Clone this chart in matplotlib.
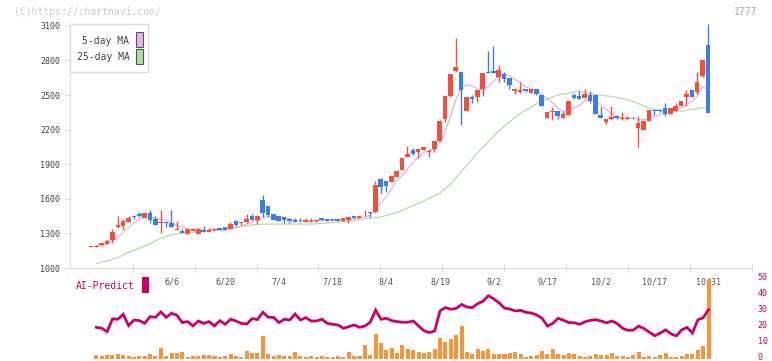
import matplotlib.pyplot as plt
from matplotlib.patches import Rectangle
from matplotlib.transforms import blended_transform_factory, ScaledTranslation
import numpy as np
import pandas as pd

plt.rcParams['font.family'] = ['DejaVu Sans Mono', 'DejaVu Sans']

# 日足 OHLC (6/6 が index 15、10/31 が最後)
opens = [1186, 1185, 1200, 1212, 1245, 1357, 1368, 1402, 1448, 1470,
         1437, 1477, 1425, 1394, 1397, 1390, 1333, 1323, 1298, 1325,
         1298, 1328, 1313, 1327, 1347, 1352, 1336, 1406, 1394, 1399,
         1448, 1416, 1590, 1538, 1468, 1450, 1442, 1425, 1416, 1408,
         1400, 1401, 1410, 1431, 1422, 1425, 1425, 1408, 1420, 1451,
         1437, 1456, 1485, 1485, 1770, 1754, 1748, 1792, 1850, 1965,
         2022, 2008, 2023, 2005, 2030, 2101, 2290, 2491, 2708, 2699,
         2364, 2485, 2486, 2552, 2702, 2708, 2659, 2680, 2644, 2538,
         2525, 2552, 2520, 2552, 2500, 2303, 2350, 2361, 2303, 2327,
         2500, 2494, 2477, 2500, 2500, 2327, 2263, 2292, 2321, 2296,
         2296, 2300, 2214, 2196, 2275, 2370, 2373, 2387, 2338, 2361,
         2407, 2485, 2543, 2529, 2667, 2933]
highs = [1192, 1200, 1218, 1250, 1340, 1450, 1425, 1450, 1450, 1485,
         1478, 1503, 1453, 1503, 1398, 1503, 1405, 1338, 1340, 1345,
         1349, 1364, 1345, 1350, 1348, 1353, 1396, 1416, 1398, 1468,
         1468, 1450, 1633, 1540, 1470, 1452, 1443, 1436, 1430, 1430,
         1430, 1430, 1422, 1432, 1423, 1426, 1427, 1432, 1444, 1453,
         1452, 1503, 1487, 1754, 1778, 1756, 1805, 1842, 1958, 2058,
         2040, 2035, 2052, 2029, 2103, 2282, 2495, 2685, 2997, 2700,
         2482, 2500, 2546, 2690, 2881, 2925, 2760, 2702, 2646, 2555,
         2612, 2555, 2555, 2555, 2502, 2355, 2396, 2363, 2364, 2450,
         2520, 2535, 2552, 2535, 2502, 2396, 2295, 2405, 2323, 2350,
         2315, 2312, 2318, 2278, 2373, 2372, 2382, 2431, 2387, 2433,
         2450, 2540, 2545, 2699, 2805, 3115]
lows = [1184, 1182, 1195, 1210, 1220, 1350, 1330, 1400, 1425, 1440,
        1435, 1393, 1375, 1306, 1358, 1358, 1333, 1300, 1297, 1318,
        1295, 1310, 1310, 1320, 1328, 1328, 1335, 1364, 1372, 1387,
        1418, 1381, 1445, 1442, 1414, 1408, 1387, 1390, 1395, 1398,
        1398, 1399, 1402, 1415, 1409, 1410, 1409, 1405, 1393, 1432,
        1435, 1453, 1445, 1480, 1648, 1662, 1745, 1790, 1848, 1962,
        1980, 1951, 2020, 1960, 2008, 2098, 2268, 2485, 2700, 2240,
        2360, 2428, 2442, 2491, 2688, 2692, 2615, 2615, 2552, 2509,
        2518, 2530, 2518, 2503, 2403, 2300, 2286, 2292, 2300, 2325,
        2465, 2463, 2475, 2430, 2336, 2300, 2248, 2280, 2296, 2280,
        2285, 2294, 2049, 2194, 2272, 2329, 2355, 2318, 2335, 2358,
        2405, 2407, 2483, 2509, 2653, 2346]
closes = [1190, 1195, 1215, 1235, 1310, 1370, 1405, 1435, 1444, 1447,
          1477, 1420, 1375, 1397, 1394, 1358, 1336, 1301, 1338, 1338,
          1335, 1313, 1332, 1331, 1330, 1330, 1380, 1376, 1397, 1425,
          1420, 1448, 1480, 1462, 1416, 1410, 1420, 1410, 1402, 1404,
          1412, 1411, 1413, 1417, 1411, 1413, 1411, 1430, 1442, 1434,
          1450, 1460, 1481, 1720, 1705, 1714, 1800, 1840, 1955, 1988,
          1990, 2032, 2049, 2010, 2100, 2277, 2490, 2680, 2745, 2543,
          2480, 2462, 2543, 2688, 2690, 2695, 2717, 2641, 2587, 2552,
          2543, 2537, 2552, 2506, 2405, 2353, 2361, 2321, 2335, 2448,
          2477, 2465, 2509, 2448, 2338, 2303, 2292, 2309, 2298, 2299,
          2299, 2297, 2260, 2275, 2370, 2359, 2364, 2335, 2385, 2407,
          2448, 2509, 2485, 2612, 2803, 2346]

# 25日移動平均
ma25_idx = [1, 3, 5, 7, 9, 11, 13, 15, 17, 19, 23, 27, 31, 34, 41, 43, 46, 50,
            54, 57, 61, 64, 65, 67, 69, 72, 76, 80, 84, 87, 91, 93, 98, 101,
            104, 107, 110, 112, 115]
ma25_val = [1040, 1062, 1090, 1135, 1172, 1208, 1257, 1288, 1306, 1310, 1328,
            1353, 1379, 1381, 1381, 1387, 1396, 1420, 1443, 1480, 1560, 1625,
            1648, 1725, 1835, 1995, 2190, 2341, 2448, 2500, 2535, 2512, 2480,
            2445, 2385, 2361, 2361, 2375, 2395]

# 出来高 (index 1 から)
volume = [12, 9, 12, 12, 15, 12, 9, 7, 9, 9, 15, 9, 33, 9, 18, 18, 21, 7, 9, 9,
          12, 12, 9, 7, 9, 15, 9, 7, 24, 18, 18,
          70, 15, 9, 12, 9, 9, 21, 9, 7, 9, 7, 9, 7, 7, 9, 7, 21, 9, 9, 42,
          12, 75, 48, 27, 33, 18, 42, 30, 27, 21, 18, 21, 30, 63, 51, 60, 72,
          99, 21, 15, 30, 24, 30, 15, 15,
          15, 18, 21, 15, 5, 9, 12, 24, 15, 30, 15, 12, 18, 15, 9, 7, 9, 15,
          12, 12, 18, 9, 9, 5, 12, 21, 7, 9, 7, 12, 18, 7, 7, 9, 15, 15, 27,
          39, 240]

# AI-Predict (index 1 から, 0-50)
ai_pred = [19.1, 18.5, 16.4, 24.4, 24.2, 27.3, 20.2, 23.7, 23.3, 21.6,
           25.8, 25.4, 28.8, 25.4, 27.9, 26.7, 22.1, 22.7, 20.0, 23.1,
           21.6, 22.7, 20.0, 23.3, 21.0, 24.2, 23.1, 21.6, 21.2, 24.6,
           24.0, 28.6, 25.5, 25.4, 22.1, 24.2, 23.7, 27.5, 23.7, 25.2,
           23.1, 23.1, 24.2, 21.6, 21.0, 20.6, 18.5, 19.5, 20.6, 19.1,
           19.9, 22.3, 30.0, 24.2, 24.8, 23.3, 22.7, 22.3, 22.3, 23.1,
           20.0, 17.0, 15.8, 16.8, 29.5, 31.5, 30.5, 31.0, 33.5, 31.9,
           31.5, 34.0, 35.5, 39.0, 37.0, 34.5, 31.2, 30.6, 29.4, 29.8,
           28.5, 28.1, 26.9, 24.8, 19.9, 21.6, 24.8, 23.5, 22.1, 22.0,
           21.0, 22.6, 23.5, 23.9, 23.1, 21.9, 23.1, 21.4, 18.5, 17.2,
           17.4, 19.9, 18.3, 16.0, 13.8, 15.5, 17.5, 15.0, 13.7, 17.5,
           19.0, 15.5, 23.8, 25.2, 30.2]

date_idx = [15, 25, 35, 45, 55, 65, 75, 85, 95, 105, 115]
date_labels = ['6/6', '6/20', '7/4', '7/18', '8/4', '8/19', '9/2', '9/17',
               '10/2', '10/17', '10/31']
price_ticks = [1000, 1300, 1600, 1900, 2200, 2500, 2800, 3100]
ai_ticks = [0, 10, 20, 30, 40, 50]

RED, BLUE = '#f44e3f', '#3d7de8'
PINK, GREEN = '#e8b2e8', '#b4dca8'
MAGENTA, ORANGE = '#cc0066', '#f5963c'
GRID = '#dddddd'

W, H = 772, 361
fig = plt.figure(figsize=(W / 100, H / 100), dpi=100)


def box(l, t, r, b):
    return [l / W, 1 - b / H, (r - l) / W, (b - t) / H]


# 画素位置: 先頭ローソク x=91px, 1本 5.37px
x0, dx = 91.0, 5.37
xlim = ((70 - x0) / dx, (752 - x0) / dx)

# ---- メインチャート ----
ax = fig.add_axes(box(70, 22, 752, 268))
ax.set_xlim(*xlim)
ax.set_ylim(1000, 1000 + 246 * 8.673)
for s in ['top', 'right']:
    ax.spines[s].set_visible(False)
for s in ['left', 'bottom']:
    ax.spines[s].set_color(GRID)
ax.set_yticks(price_ticks)
ax.set_yticklabels([str(v) for v in price_ticks])
ax.tick_params(axis='y', direction='out', length=4, color=GRID, labelsize=6,
               labelcolor='#444444', pad=3)
xt = [(132.7 - x0) / dx + k * 62 / dx for k in range(11)]
ax.set_xticks(xt)
ax.set_xticklabels([])
ax.tick_params(axis='x', direction='inout', length=6, color=GRID)

o = np.array(opens, float)
h = np.array(highs, float)
l = np.array(lows, float)
c = np.array(closes, float)
x = np.arange(len(c))
cols = np.where(c >= o, RED, BLUE)
ax.vlines(x, l, h, colors=cols, lw=1, zorder=3)
ax.bar(x, np.maximum(np.abs(c - o), 7), bottom=np.minimum(o, c), width=0.85,
       color=cols, lw=0, zorder=4)

ma5 = pd.Series(c).rolling(5, min_periods=1).mean()
ax.plot(x[1:], ma5[1:], color=PINK, lw=0.9, zorder=2)
ax.plot(ma25_idx, ma25_val, color=GREEN, lw=0.9, zorder=2)

# ---- 下段: 出来高 + AI-Predict ----
axv = fig.add_axes(box(70, 276, 752, 359))
axv.set_xlim(*xlim)
axv.set_ylim(0, 249)
axv.axis('off')
xv = np.arange(1, len(c))
axv.bar(xv, volume, width=0.75, color=ORANGE, lw=0, zorder=2)
tr = blended_transform_factory(axv.transData, axv.transAxes)
for i, lab in zip(date_idx, date_labels):
    axv.text(i, (359 - 282) / 83, lab, transform=tr, ha='center', va='center',
             fontsize=6, color='#555555', zorder=1)

axa = fig.add_axes(box(70, 276, 752, 359))
axa.set_facecolor('none')
axa.set_xlim(*xlim)
axa.set_ylim(-0.82, 51.4)
for s in axa.spines.values():
    s.set_visible(False)
axa.set_xticks([])
axa.yaxis.tick_right()
axa.set_yticks(ai_ticks)
axa.set_yticklabels([str(v) for v in ai_ticks])
axa.tick_params(axis='y', length=0, labelsize=6, labelcolor=MAGENTA, pad=4)
up1 = ScaledTranslation(0, 1.5 / 100, fig.dpi_scale_trans)
for lab in axa.get_yticklabels():
    lab.set_transform(lab.get_transform() + up1)
axa.plot(xv, ai_pred, color=MAGENTA, lw=2, solid_joinstyle='miter')

# ---- 注記・凡例 (画素座標) ----
ov = fig.add_axes([0, 0, 1, 1])
ov.set_facecolor('none')
ov.set_xlim(0, W)
ov.set_ylim(H, 0)
ov.axis('off')
ov.text(14, 12, '(C)https://chartnavi.com/', fontsize=7, color='#c8c8c8',
        va='center')
ov.text(757, 12, '1777', fontsize=7, color='#aaaaaa', va='center', ha='right')

ov.add_patch(Rectangle((70, 24), 78, 47.5, fc='white', ec=GRID, lw=1))
ov.text(129.5, 40.7, '5-day MA', fontsize=7, color='#444444', ha='right',
        va='center')
ov.text(129.5, 57.3, '25-day MA', fontsize=7, color='#444444', ha='right',
        va='center')
ov.add_patch(Rectangle((136.3, 31.5), 6.2, 15, fc=PINK, ec='#555555', lw=0.8))
ov.add_patch(Rectangle((136.3, 48.5), 6.2, 15, fc=GREEN, ec='#555555', lw=0.8))

ov.text(76, 286, 'AI-Predict', fontsize=7, color=MAGENTA, va='center')
ov.add_patch(Rectangle((142.3, 277), 6.3, 16, fc=MAGENTA, lw=0))

fig.savefig('out.png', dpi=100)
